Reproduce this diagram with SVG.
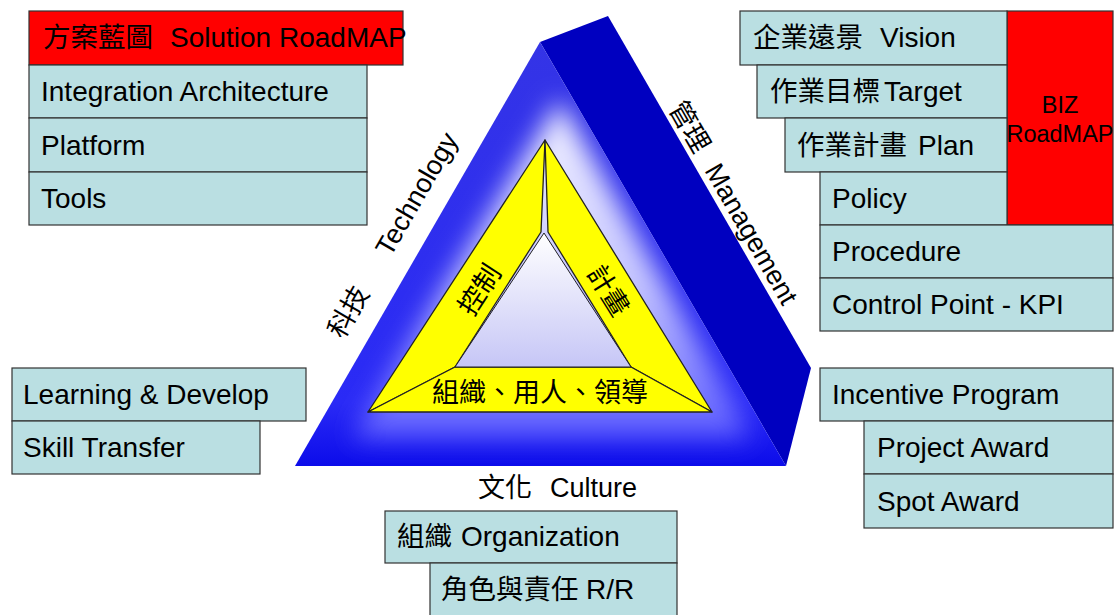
<svg xmlns="http://www.w3.org/2000/svg" width="1115" height="615" viewBox="0 0 1115 615">
<style>
.box{fill:#BADFE2;stroke:#333;stroke-width:1.2}
.red{fill:#FF0000;stroke:#333;stroke-width:1.2}
.t{font-family:"Liberation Sans","Noto Sans CJK TC",sans-serif;font-size:28px;fill:#000}
.cj{font-size:27.5px}
.biz{font-family:"Liberation Sans",sans-serif;font-size:23.5px;fill:#000;text-anchor:middle}
.lbl{font-family:"Liberation Sans","Noto Sans CJK TC",sans-serif;font-size:27px;fill:#000}
.yel{fill:#FFFF00;stroke:#222;stroke-width:1.3;stroke-linejoin:round}
</style>
<defs>
<linearGradient id="frontG" x1="0" y1="0" x2="0" y2="1">
<stop offset="0" stop-color="#3434e6"/>
<stop offset="0.85" stop-color="#2a2af6"/>
<stop offset="1" stop-color="#0c0cea"/>
</linearGradient>
<linearGradient id="glowG" x1="0" y1="0" x2="0" y2="1">
<stop offset="0" stop-color="#f4f4ff"/>
<stop offset="0.55" stop-color="#c4c4ff"/>
<stop offset="1" stop-color="#5a5aff"/>
</linearGradient>
<linearGradient id="innerG" x1="0" y1="0" x2="0" y2="1">
<stop offset="0" stop-color="#ffffff"/>
<stop offset="1" stop-color="#c6c6f6"/>
</linearGradient>
<filter id="blur" x="-30%" y="-30%" width="160%" height="160%">
<feGaussianBlur stdDeviation="13"/>
</filter>
<clipPath id="frontClip"><polygon points="540,42 295,466 786,466"/></clipPath>
</defs>

<g id="pyramid">
<polygon points="540,42 608,16 811,368 786,466" fill="#0000C0"/>
<polygon points="540,42 295,466 786,466" fill="url(#frontG)"/>
<g clip-path="url(#frontClip)">
<polygon points="560,100 352,438 752,438" fill="url(#glowG)" filter="url(#blur)"/>
</g>
</g>

<g id="core">
<polygon class="yel" points="545,140 541,232 455,367 368,412"/>
<polygon class="yel" points="545,140 712,412 631,367 548,232"/>
<polygon class="yel" points="368,412 455,367 631,367 712,412"/>
<polygon points="544,233 455,367 631,367" fill="url(#innerG)" stroke="#222" stroke-width="1"/>
<text class="lbl" transform="translate(480,290) rotate(-57)" x="0" y="9" text-anchor="middle" font-size="26">控制</text>
<text class="lbl" transform="translate(608,291) rotate(58)" x="0" y="9" text-anchor="middle" font-size="26">計畫</text>
<text class="lbl" x="540" y="402" text-anchor="middle" font-size="28">組織、用人、領導</text>
</g>

<g id="axis-labels">
<text class="lbl" transform="translate(343,340) rotate(-60)"><tspan x="0">科技</tspan><tspan x="95">Technology</tspan></text>
<text class="lbl" transform="translate(668,108) rotate(60)"><tspan x="0">管理</tspan><tspan x="72">Management</tspan></text>
<text class="lbl" y="497"><tspan x="478">文化</tspan><tspan x="550">Culture</tspan></text>
</g>

<g id="solution-roadmap">
<rect class="red" x="29" y="11" width="374" height="54"/>
<text class="t" y="47"><tspan class="cj" x="43">方案藍圖</tspan><tspan x="170">Solution RoadMAP</tspan></text>
</g>
<g id="integration-architecture">
<rect class="box" x="29" y="65" width="338" height="53"/>
<text class="t" x="41" y="101">Integration Architecture</text>
</g>
<g id="platform">
<rect class="box" x="29" y="118" width="338" height="54"/>
<text class="t" x="41" y="155">Platform</text>
</g>
<g id="tools">
<rect class="box" x="29" y="172" width="338" height="53"/>
<text class="t" x="41" y="208">Tools</text>
</g>

<g id="biz-roadmap">
<rect class="red" x="1007" y="11" width="106" height="214"/>
<text class="biz" x="1060" y="113">BIZ</text>
<text class="biz" x="1060" y="142">RoadMAP</text>
</g>
<g id="vision">
<rect class="box" x="740" y="11" width="267" height="54"/>
<text class="t" y="47"><tspan class="cj" x="753">企業遠景</tspan><tspan x="880">Vision</tspan></text>
</g>
<g id="target">
<rect class="box" x="757" y="65" width="250" height="53"/>
<text class="t" y="101"><tspan class="cj" x="770">作業目標</tspan><tspan x="884">Target</tspan></text>
</g>
<g id="plan">
<rect class="box" x="785" y="118" width="222" height="54"/>
<text class="t" y="155"><tspan class="cj" x="797">作業計畫</tspan><tspan x="918">Plan</tspan></text>
</g>
<g id="policy">
<rect class="box" x="820" y="172" width="187" height="53"/>
<text class="t" x="832" y="208">Policy</text>
</g>
<g id="procedure">
<rect class="box" x="820" y="225" width="293" height="53"/>
<text class="t" x="832" y="261">Procedure</text>
</g>
<g id="control-point">
<rect class="box" x="820" y="278" width="293" height="53"/>
<text class="t" x="832" y="314">Control Point - KPI</text>
</g>

<g id="learning">
<rect class="box" x="12" y="368" width="294" height="53"/>
<text class="t" x="23" y="404">Learning &amp; Develop</text>
</g>
<g id="skill-transfer">
<rect class="box" x="12" y="421" width="248" height="53"/>
<text class="t" x="23" y="457">Skill Transfer</text>
</g>

<g id="incentive">
<rect class="box" x="820" y="368" width="293" height="53"/>
<text class="t" x="832" y="404">Incentive Program</text>
</g>
<g id="project-award">
<rect class="box" x="864" y="421" width="249" height="53"/>
<text class="t" x="877" y="457">Project Award</text>
</g>
<g id="spot-award">
<rect class="box" x="864" y="474" width="249" height="54"/>
<text class="t" x="877" y="511">Spot Award</text>
</g>

<g id="organization">
<rect class="box" x="385" y="511" width="292" height="52"/>
<text class="t" y="546"><tspan class="cj" x="397">組織</tspan><tspan x="461">Organization</tspan></text>
</g>
<g id="roles">
<rect class="box" x="430" y="563" width="247" height="60"/>
<text class="t" y="599"><tspan class="cj" x="441">角色與責任</tspan><tspan x="586">R/R</tspan></text>
</g>
</svg>
